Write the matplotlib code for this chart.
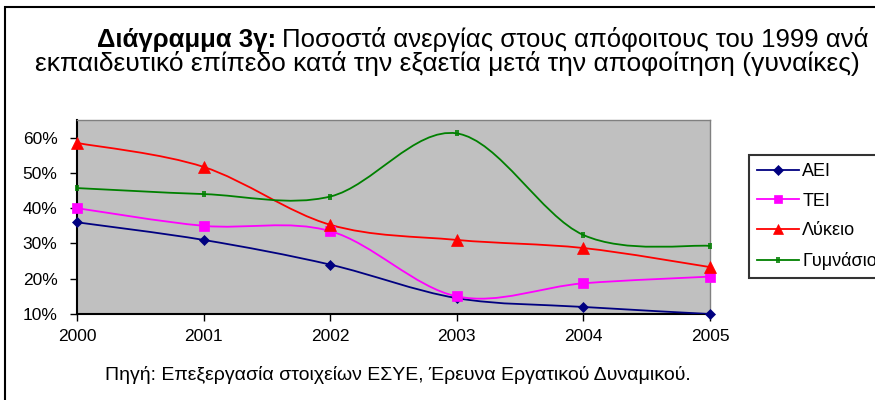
import matplotlib.pyplot as plt
from matplotlib.path import Path
from matplotlib.patches import PathPatch, Rectangle
from matplotlib.lines import Line2D
from matplotlib.ticker import PercentFormatter

plt.rcParams['font.family'] = ['Liberation Sans', 'DejaVu Sans']

years = [2000, 2001, 2002, 2003, 2004, 2005]
aei = [36, 31, 24, 14.5, 12, 10]
tei = [40, 35, 33.5, 15, 18.7, 20.6]
lykeio = [58.5, 51.7, 35.3, 31, 28.7, 23.3]
gymnasio = [45.7, 44, 43.3, 61.2, 32.4, 29.3]

# two short vertical bars, like Excel's "+" marker on a line
bars = Path([(-0.35, -1), (-0.35, 1), (0.35, -1), (0.35, 1)],
            [Path.MOVETO, Path.LINETO, Path.MOVETO, Path.LINETO])

series = [
    ("ΑΕΙ", aei, "#000080", "D", 5.5),
    ("ΤΕΙ", tei, "#FF00FF", "s", 6.5),
    ("Λύκειο", lykeio, "#FF0000", "^", 8),
    ("Γυμνάσιο", gymnasio, "#008000", bars, 5),
]


def smooth_path(xs, ys):
    # Excel-style smoothed line: cubic Bezier through every point
    verts = [(xs[0], ys[0])]
    codes = [Path.MOVETO]
    n = len(xs)
    for i in range(n - 1):
        x0, y0 = xs[max(i - 1, 0)], ys[max(i - 1, 0)]
        x1, y1 = xs[i], ys[i]
        x2, y2 = xs[i + 1], ys[i + 1]
        x3, y3 = xs[min(i + 2, n - 1)], ys[min(i + 2, n - 1)]
        c1 = (x1 + (x2 - x0) / 6, y1 + (y2 - y0) / 6)
        c2 = (x2 - (x3 - x1) / 6, y2 - (y3 - y1) / 6)
        verts += [c1, c2, (x2, y2)]
        codes += [Path.CURVE4] * 3
    return Path(verts, codes)


fig = plt.figure(figsize=(8.75, 4), dpi=100)
fig.patch.set_facecolor("white")
fig.add_artist(Rectangle((5 / 875, -0.1), 1.2, (400 - 7) / 400 + 0.1, transform=fig.transFigure,
                         fill=False, edgecolor="black", linewidth=1.5))

ax = fig.add_axes([77 / 875, 86 / 400, 633 / 875, 194 / 400])
ax.set_facecolor("#C0C0C0")

for name, vals, color, marker, ms in series:
    ax.add_patch(PathPatch(smooth_path(years, vals), fill=False, edgecolor=color, linewidth=1.3, zorder=3))
    ax.plot(years, vals, linestyle="none", marker=marker, color=color, markersize=ms,
            markeredgewidth=1.2 if marker is bars else 0.5, zorder=4, clip_on=False)

ax.set_xlim(2000, 2005)
ax.set_ylim(10, 65)
ax.set_yticks([10, 20, 30, 40, 50, 60])
ax.yaxis.set_major_formatter(PercentFormatter(decimals=0))
ax.set_xticks(years)
ax.tick_params(axis="both", labelsize=12.5, direction="out", length=5, width=1)
ax.tick_params(axis="x", pad=6)
ax.tick_params(axis="y", pad=9)
for s in ["top", "right"]:
    ax.spines[s].set_color("#808080")
    ax.spines[s].set_linewidth(1)
for s in ["left", "bottom"]:
    ax.spines[s].set_color("black")
    ax.spines[s].set_linewidth(1.5)

handles = [Line2D([], [], color=c, marker=m, markersize=ms * 0.85, linewidth=1.3,
                  markeredgewidth=1.2 if m is bars else 0.5) for _, _, c, m, ms in series]
leg = fig.legend(handles, [s[0] for s in series], loc="upper left", bbox_to_anchor=(749 / 875, 1 - 155 / 400),
                 frameon=True, fancybox=False, edgecolor="black", fontsize=13, handlelength=2.3,
                 labelspacing=0.7, borderpad=0.45, borderaxespad=0, handletextpad=0.2)
leg.get_frame().set_linewidth(1.5)

# title: bold lead-in, then the rest on the same baseline
t1 = fig.text(97 / 875, 1 - 47 / 400, "Διάγραμμα 3γ:", fontsize=18.5, fontweight="bold",
              ha="left", va="baseline")
fig.canvas.draw()
bb = t1.get_window_extent()
fig.text((bb.x1 + 6) / 875, 1 - 47 / 400, "Ποσοστά ανεργίας στους απόφοιτους του 1999 ανά",
         fontsize=18.5, ha="left", va="baseline")
fig.text(35 / 875, 1 - 71 / 400, "εκπαιδευτικό επίπεδο κατά την εξαετία μετά την αποφοίτηση (γυναίκες)",
         fontsize=19, ha="left", va="baseline")
fig.text(398 / 875, 1 - 375 / 400, "Πηγή: Επεξεργασία στοιχείων ΕΣΥΕ, Έρευνα Εργατικού Δυναμικού.",
         fontsize=14, ha="center", va="center")

fig.savefig("out.png", dpi=100)
